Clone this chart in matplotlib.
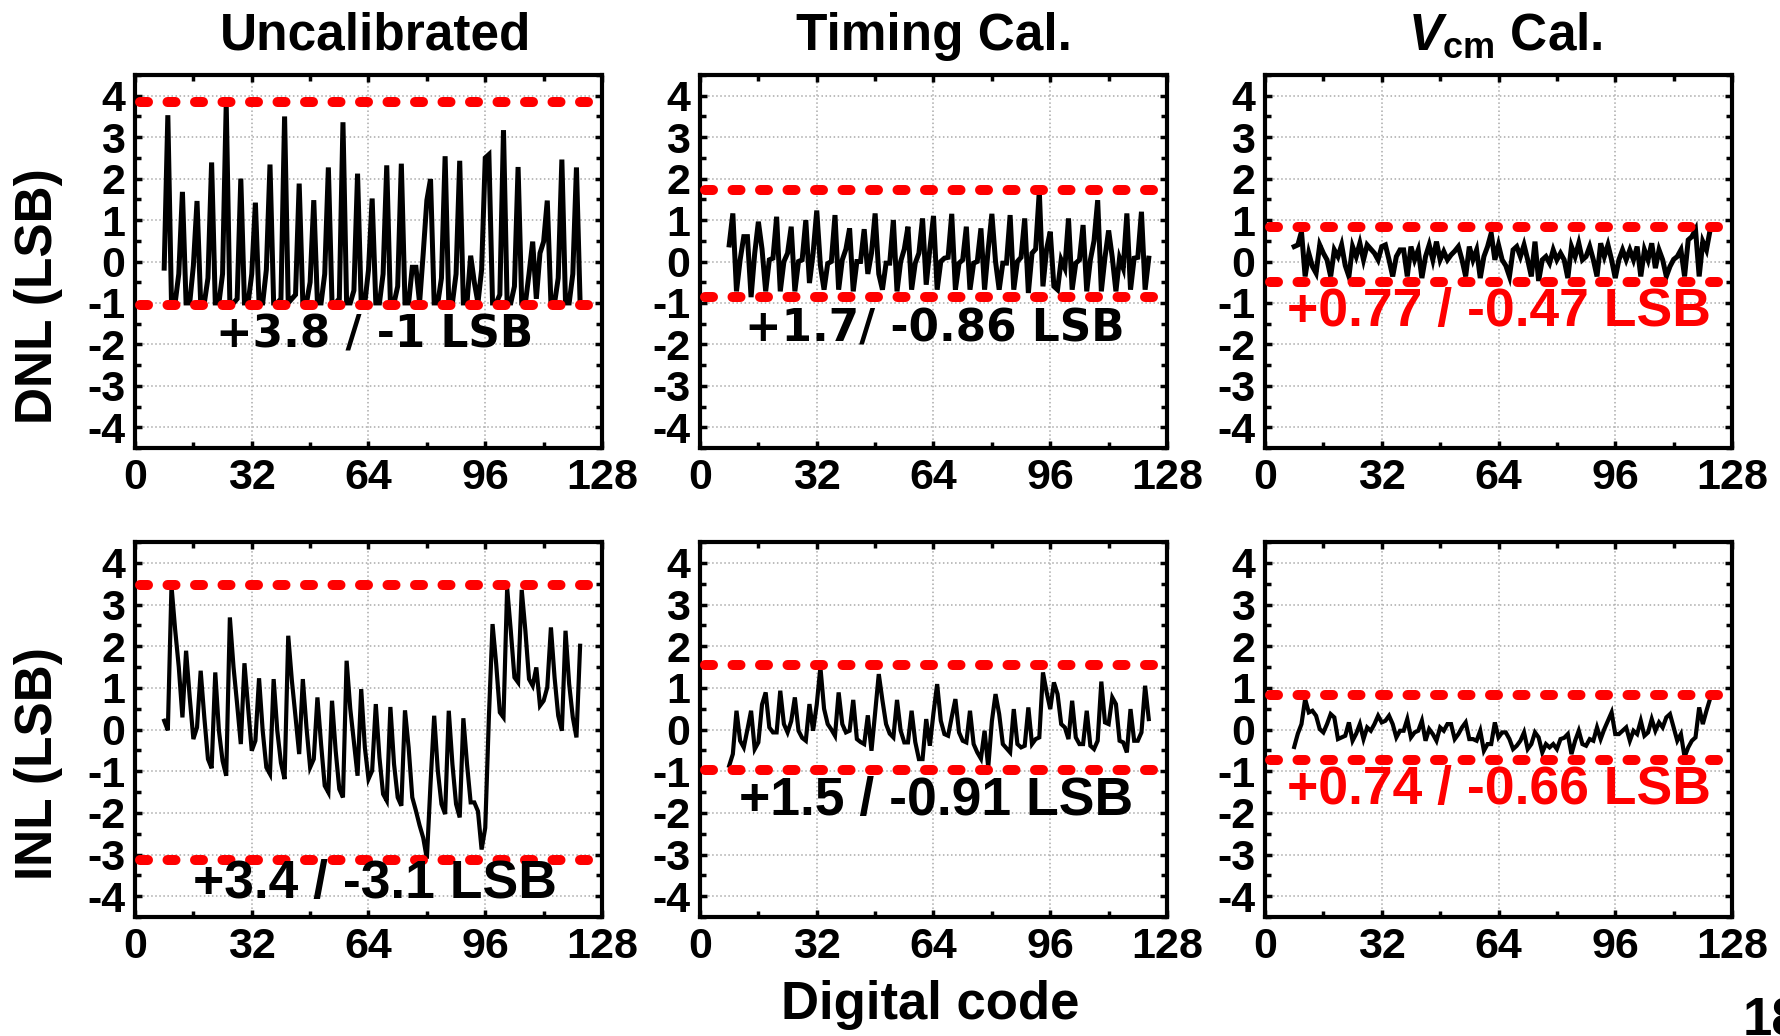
import matplotlib
matplotlib.use('Agg')
import matplotlib.pyplot as plt
import numpy as np

plt.rcParams['font.family'] = ['Liberation Sans', 'DejaVu Sans']
plt.rcParams['font.weight'] = 'bold'
plt.rcParams['axes.unicode_minus'] = False
plt.rcParams['mathtext.fontset'] = 'custom'
plt.rcParams['mathtext.rm'] = 'Liberation Sans:bold'
plt.rcParams['mathtext.bf'] = 'Liberation Sans:bold'
plt.rcParams['mathtext.it'] = 'Liberation Sans:bold:italic'

# data: first code of each series, then one value per code (LSB)
start_code = 8

dnl_uncal = [-0.16, 3.53, -1, -1, -0.3, 1.68, -1, -1, -0.1, 1.46,
             -1, -1, -0.4, 2.39, -1, -1, -0.3, 3.8, -1, -1,
             -0.9, 2.0, -1, -1, -0.3, 1.42, -1, -1, -0.2, 2.34,
             -1, -1, -0.9, 3.5, -1, -0.9, -0.8, 1.88, -1, -1,
             -0.5, 1.48, -1, -1, -0.3, 2.27, -1, -1, -0.9, 3.36,
             -1, -1, -0.7, 2.12, -1, -1, -0.2, 1.52, -1, -1,
             -0.3, 2.32, -1, -1, -0.6, 2.36, -1, -1, -0.14, -0.14,
             -1, 0.2, 1.48, 1.99, -1, -1, -0.4, 2.54, -1, -1,
             -0.3, 2.43, -1, -1, 0.14, -0.5, -1, -0.2, 2.5, 2.58,
             -1, -1, -0.8, 3.17, -1, -1, -0.6, 2.28, -1, -1,
             -0.3, 0.48, -0.9, 0.2, 0.48, 1.47, -1, -1, -0.4, 2.46,
             -1, -1, -0.3, 2.27, -1]

dnl_timing = [0.4, 1.16, -0.72, 0.04, 0.6, 0.6, -0.86, 0.2, 0.96, 0.3,
              -0.72, 0.04, 0.08, 1.08, -0.72, 0.0, 0.2, 0.84, -0.72, 0.0,
              0.04, 1.0, -0.52, 0.2, 1.23, -0.1, -0.68, -0.05, 0.0, 1.12,
              -0.68, 0.04, 0.3, 0.8, -0.72, 0.0, 0.0, 0.78, -0.3, 0.2,
              1.16, -0.3, -0.68, -0.04, -0.04, 1.0, -0.72, 0.0, 0.3, 0.84,
              -0.68, -0.04, 0.2, 1.04, -0.56, 0.3, 1.1, -0.68, 0.0, 0.08,
              0.1, 1.15, -0.68, -0.04, 0.04, 0.84, -0.68, -0.04, 0.0, 0.8,
              -0.68, 0.3, 1.15, 0.0, -0.68, -0.04, -0.04, 1.12, -0.68, 0.0,
              0.1, 1.04, -0.76, 0.2, 0.3, 1.7, -0.6, 0.3, 0.72, -0.6,
              -0.68, 0.04, -0.16, 1.04, -0.68, -0.04, 0.04, 0.88, -0.72, 0.04,
              0.5, 1.48, -0.72, 0.1, 0.75, 0.1, -0.72, 0.08, -0.16, 1.16,
              -0.68, 0.08, 0.1, 1.2, -0.68, 0.08]

dnl_vcm = [0.36, 0.40, 0.72, -0.36, 0.2, -0.12, -0.28, 0.4, 0.2, 0.04,
           -0.36, 0.28, 0.12, 0.4, -0.1, -0.36, 0.36, 0.12, 0.44, 0.04,
           0.4, 0.3, 0.2, 0.04, 0.36, 0.4, 0.04, -0.36, 0.12, 0.28,
           0.28, -0.36, 0.36, 0.04, 0.28, -0.4, 0.12, 0.4, 0.04, 0.48,
           0.04, 0.24, 0.04, 0.16, 0.25, 0.36, 0.04, -0.36, 0.36, 0.04,
           0.28, -0.4, 0.12, 0.36, 0.68, 0.04, 0.4, 0.04, -0.1, -0.36,
           0.28, 0.36, 0.12, 0.4, 0.04, -0.36, 0.48, -0.47, 0.04, 0.12,
           -0.04, 0.28, 0.04, 0.2, 0.04, -0.4, 0.36, 0.12, 0.44, 0.04,
           0.12, 0.36, 0.04, -0.36, 0.44, 0.12, 0.4, 0.04, -0.4, 0.04,
           0.28, 0.04, 0.28, 0.04, 0.36, -0.36, 0.28, 0.04, 0.44, -0.16,
           0.28, 0.04, -0.36, -0.12, 0.05, 0.12, 0.28, -0.36, 0.52, 0.6,
           0.77, -0.36, 0.48, 0.28, 0.76]

inl_uncal = [0.21, -0.02, 3.45, 2.4, 1.5, 0.29, 1.89, 0.77, -0.23, 0.05,
             1.41, 0.29, -0.71, -0.93, 1.37, -0.03, -0.75, -1.11, 2.69, 1.5,
             0.6, -0.35, 1.59, 0.53, -0.51, -0.27, 1.23, -0.03, -0.91, -1.07,
             1.21, -0.03, -0.8, -1.19, 2.25, 1.17, 0.3, -0.59, 1.21, 0.05,
             -0.91, -0.71, 0.77, -0.35, -1.35, -1.51, 0.69, -0.51, -1.43, -1.63,
             1.65, 0.5, -0.3, -1.11, 0.97, -0.43, -1.19, -0.99, 0.61, -0.67,
             -1.55, -1.71, 0.54, -0.83, -1.63, -1.83, 0.46, -0.43, -1.63, -1.95,
             -2.3, -2.6, -3.1, -1.3, 0.33, -0.99, -1.79, -2.03, 0.45, -0.83,
             -1.79, -2.11, 0.27, -0.83, -1.75, -1.75, -1.96, -2.88, -2.36, 0.3,
             2.53, 1.57, 0.41, 0.29, 3.4, 2.37, 1.25, 1.13, 3.35, 2.37,
             1.21, 1.05, 1.49, 0.57, 0.69, 1.01, 2.45, 1.25, 0.33, -0.03,
             2.37, 1.09, 0.29, -0.19, 2.01]

inl_timing = [-0.87, -0.59, 0.45, -0.27, -0.43, 0.0, 0.45, -0.47, -0.31, 0.6,
              0.89, 0.05, -0.07, -0.07, 0.93, 0.13, -0.07, 0.2, 0.77, -0.03,
              -0.2, -0.27, 0.61, -0.03, 0.6, 1.5, 0.5, 0.13, 0.0, -0.15,
              0.89, 0.13, -0.07, -0.03, 0.71, -0.23, -0.3, -0.35, 0.34, -0.51,
              0.4, 1.33, 0.7, 0.13, -0.1, -0.19, 0.71, -0.03, -0.31, -0.31,
              0.45, -0.3, -0.71, -0.71, 0.25, -0.39, 0.4, 1.09, 0.21, -0.11,
              -0.15, 0.3, 0.73, -0.07, -0.27, -0.31, 0.45, -0.35, -0.55, -0.7,
              -0.03, -0.91, 0.2, 0.85, 0.37, -0.35, -0.45, -0.55, 0.49, -0.35,
              -0.43, -0.39, 0.53, -0.35, -0.23, -0.19, 1.37, 0.9, 0.49, 1.13,
              0.85, 0.13, 0.05, -0.23, 0.69, -0.19, -0.35, -0.35, 0.45, -0.39,
              -0.47, -0.27, 1.15, 0.17, 0.13, 0.77, 0.61, -0.27, -0.31, -0.55,
              0.49, -0.27, -0.27, -0.07, 1.05, 0.25]

inl_vcm = [-0.42, -0.1, 0.13, 0.73, 0.41, 0.45, 0.33, 0.01, -0.07, 0.13,
           0.37, 0.29, -0.23, -0.19, -0.15, 0.17, -0.27, -0.1, 0.13, -0.23,
           0.05, -0.03, 0.13, 0.33, 0.17, 0.21, 0.33, 0.13, -0.19, -0.03,
           -0.03, 0.25, -0.19, -0.07, -0.03, 0.21, -0.27, 0.01, -0.11, -0.27,
           0.05, -0.03, 0.13, 0.13, -0.23, -0.11, 0.05, 0.17, -0.23, -0.23,
           -0.27, -0.03, -0.51, -0.35, -0.35, 0.17, -0.19, -0.07, -0.07, -0.23,
           -0.47, -0.39, -0.27, -0.07, -0.47, -0.35, -0.07, -0.19, -0.55, -0.35,
           -0.43, -0.35, -0.47, -0.23, -0.2, -0.11, -0.59, -0.27, -0.03, -0.35,
           -0.39, -0.23, -0.27, 0.05, -0.23, 0.01, 0.21, 0.41, -0.11, -0.11,
           -0.03, 0.05, -0.27, -0.03, -0.11, 0.21, -0.15, -0.07, 0.25, -0.03,
           0.17, 0.05, 0.29, 0.37, 0.05, -0.27, -0.11, -0.66, -0.43, -0.27,
           -0.19, 0.53, 0.13, 0.45, 0.74]

# bound lines (upper, lower) and the labels for them
dnl_bounds = [(3.86, -1.05), (1.73, -0.86), (0.83, -0.49)]
inl_bounds = [(3.48, -3.12), (1.54, -0.98), (0.83, -0.74)]
dnl_labels = ['+3.8 / -1 LSB', '+1.7/ -0.86 LSB', '+0.77 / -0.47 LSB']
inl_labels = ['+3.4 / -3.1 LSB', '+1.5 / -0.91 LSB', '+0.74 / -0.66 LSB']
col_titles = ['Uncalibrated', 'Timing Cal.', r'$\mathit{V}_{\mathrm{cm}}$ Cal.']
xticks = [0, 32, 64, 96, 128]
yticks = [-4, -3, -2, -1, 0, 1, 2, 3, 4]

W, H = 1781, 1036
fig = plt.figure(figsize=(W / 100, H / 100), dpi=100)

col_left = [135, 700, 1265]
ax_w = 467
row_box = [(75, 448), (542, 917)]

# label position (code, LSB), colour, font, size
lab_style = [
    [((65.8, -1.78), 'black', 'DejaVu Sans', 31.5),
     ((64.4, -1.62), 'black', 'DejaVu Sans', 31.5),
     ((64.1, -1.22), 'red', 'Liberation Sans', 38.5)],
    [((65.8, -3.70), 'black', 'Liberation Sans', 38.5),
     ((64.6, -1.72), 'black', 'Liberation Sans', 38.5),
     ((64.1, -1.45), 'red', 'Liberation Sans', 38.5)],
]

series = [[dnl_uncal, dnl_timing, dnl_vcm], [inl_uncal, inl_timing, inl_vcm]]
bounds = [dnl_bounds, inl_bounds]
labels = [dnl_labels, inl_labels]

for r in range(2):
    top, bot = row_box[r]
    for c in range(3):
        ax = fig.add_axes([col_left[c] / W, 1 - bot / H, ax_w / W, (bot - top) / H])
        y = series[r][c]
        x = np.arange(start_code, start_code + len(y))
        ax.plot(x, y, color='black', lw=3.6 if r == 0 else 3.0, zorder=2,
                solid_joinstyle='miter')
        for b in bounds[r][c]:
            ax.plot([1.5, 126.2], [b, b], color='red', lw=7.2, zorder=3,
                    dashes=(0.8, 1.95), dash_capstyle='round')
        ax.set_xlim(0, 128)
        ax.set_ylim(-4.5, 4.5)
        ax.set_xticks(xticks)
        ax.set_xticks([16, 48, 80, 112], minor=True)
        ax.set_yticks(yticks)
        ax.set_yticks(np.arange(-4.5, 4.6, 1.0), minor=True)
        ax.tick_params(which='both', direction='in', top=True, right=True,
                       width=2.5, labelsize=31, pad=7)
        ax.tick_params(which='major', length=5)
        ax.tick_params(which='minor', length=4)
        ax.grid(True, which='major', color='#aaaaaa', ls=':', lw=1.1)
        for sp in ax.spines.values():
            sp.set_linewidth(3.0)
        for t in ax.get_xticklabels() + ax.get_yticklabels():
            t.set_fontweight('bold')
        (tx, ty), col, fam, fs = lab_style[r][c]
        ax.text(tx, ty, labels[r][c], color=col, family=[fam, 'DejaVu Sans'],
                fontsize=fs, fontweight='bold', ha='center', va='center', zorder=4)

title_x = [376, 934, 1505]
for c in range(3):
    fig.text(title_x[c] / W, 1 - 50 / H, col_titles[c], fontsize=37,
             fontweight='bold', ha='center', va='baseline')

fig.text(39 / W, 1 - 296 / H, 'DNL (LSB)', rotation=90, fontsize=37,
         fontweight='bold', ha='center', va='center')
fig.text(39 / W, 1 - 764 / H, 'INL (LSB)', rotation=90, fontsize=37,
         fontweight='bold', ha='center', va='center')
fig.text(930 / W, 1 - 1019 / H, 'Digital code', fontsize=38,
         fontweight='bold', ha='center', va='baseline')
# page number, cut off at the corner as in the source
fig.text(1743 / W, 1 - 1036 / H, '18', fontsize=38,
         fontweight='bold', ha='left', va='baseline')

fig.savefig('out.png', dpi=100)
